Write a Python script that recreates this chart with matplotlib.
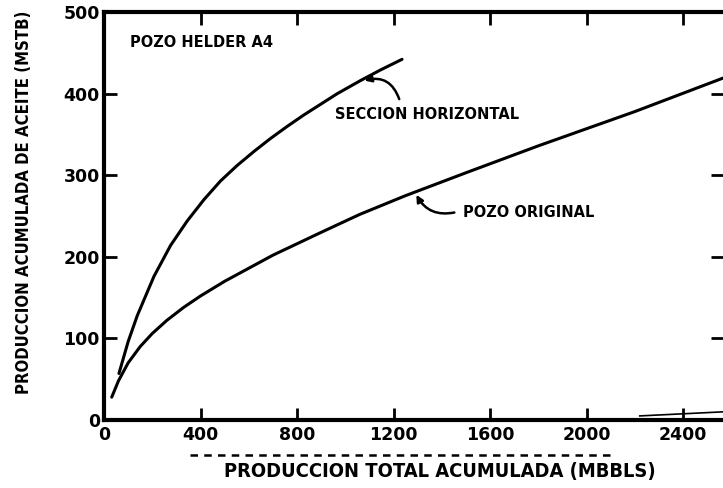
import matplotlib
matplotlib.use("Agg")
import matplotlib.pyplot as plt
from matplotlib import font_manager as fm
from matplotlib.lines import Line2D

# datos (MBBLS vs MSTB)
seccion_x = [62, 100, 138, 207, 276, 345, 414, 483, 552, 621, 690, 760, 829, 898, 967, 1063, 1146, 1235]
seccion_y = [57, 96, 128, 176, 214, 244, 270, 293, 312, 329, 345, 360, 374, 387, 400, 416, 429, 442]

original_x = [32, 60, 100, 150, 200, 260, 330, 400, 500, 600, 700, 800, 900, 1060, 1250, 1500, 1800, 2200, 2565]
original_y = [28, 48, 70, 90, 106, 122, 138, 152, 170, 186, 202, 216, 230, 252, 275, 303, 336, 378, 419]

# trazo suelto abajo a la derecha
extra_x = [2220, 2565]
extra_y = [5, 10]

x_ticks = [0, 400, 800, 1200, 1600, 2000, 2400]
y_ticks = [0, 100, 200, 300, 400, 500]


def narrow_font():
    # una letra estrecha se parece mas a la del original
    for fam, stretch in [('DejaVu Sans', 'condensed'), ('Liberation Sans Narrow', 'normal')]:
        try:
            path = fm.findfont(fm.FontProperties(family=fam, weight='bold', stretch=stretch),
                               fallback_to_default=False)
        except ValueError:
            continue
        if 'Condensed' in path or 'Narrow' in path:
            return path
    return None


def fit_length(fig, txt, target, vertical=False):
    fig.canvas.draw()
    bb = txt.get_window_extent()
    cur = bb.height if vertical else bb.width
    txt.set_fontsize(txt.get_fontsize() * target / cur)


plt.rcParams['font.family'] = ['DejaVu Sans']
plt.rcParams['font.weight'] = 'bold'

fig = plt.figure(figsize=(7.23, 4.88), dpi=100)
ax = fig.add_axes([104 / 723, 68 / 488, 619 / 723, 408 / 488])

ax.plot(seccion_x, seccion_y, color='black', lw=2.2, solid_capstyle='round', solid_joinstyle='round')
ax.plot(original_x, original_y, color='black', lw=2.2, solid_capstyle='round', solid_joinstyle='round')
ax.plot(extra_x, extra_y, color='black', lw=1.2)

ax.set_xlim(0, 2565)
ax.set_ylim(0, 500)
ax.set_xticks(x_ticks)
ax.set_yticks(y_ticks)

for side in ['left', 'bottom', 'top']:
    ax.spines[side].set_linewidth(3)
ax.spines['right'].set_visible(False)

ax.tick_params(axis='both', direction='in', length=9, width=2, labelsize=12.5,
               top=True, right=True, pad=4)
ax.tick_params(axis='y', pad=3)
for lab in ax.get_xticklabels() + ax.get_yticklabels():
    lab.set_fontweight('bold')

path = narrow_font()
label_kw = dict(fontweight='bold')
if path:
    label_kw = dict(fontproperties=fm.FontProperties(fname=path))

xl = ax.set_xlabel('PRODUCCION TOTAL ACUMULADA (MBBLS)', **label_kw)
yl = ax.set_ylabel('PRODUCCION ACUMULADA DE ACEITE (MSTB)', **label_kw)
xl.set_fontsize(14)
yl.set_fontsize(13)
ax.xaxis.set_label_coords(0.543, -0.103)
ax.yaxis.set_label_coords(-0.115, 0.534)
fit_length(fig, xl, 435)
fit_length(fig, yl, 383, vertical=True)

ax.text(108, 463, 'POZO HELDER A4', fontsize=10.5, fontweight='bold', va='center')

ax.text(957, 374, 'SECCION HORIZONTAL', fontsize=10.5, fontweight='bold', va='center')
ax.annotate('', xy=(1068, 415), xytext=(1227, 390),
            arrowprops=dict(arrowstyle='-|>', color='black', lw=1.8,
                            mutation_scale=10, connectionstyle='arc3,rad=0.5'))

ax.text(1488, 254, 'POZO ORIGINAL', fontsize=10.5, fontweight='bold', va='center')
ax.annotate('', xy=(1289, 279), xytext=(1463, 255),
            arrowprops=dict(arrowstyle='-|>', color='black', lw=1.8,
                            mutation_scale=10, connectionstyle='arc3,rad=-0.4'))

# restos de texto borrado bajo las etiquetas del eje x
fig.add_artist(Line2D([190 / 723, 610 / 723], [33 / 488, 33 / 488],
                      color='black', lw=1.8, dashes=(3, 2.5)))

fig.savefig('out.png', dpi=100)
